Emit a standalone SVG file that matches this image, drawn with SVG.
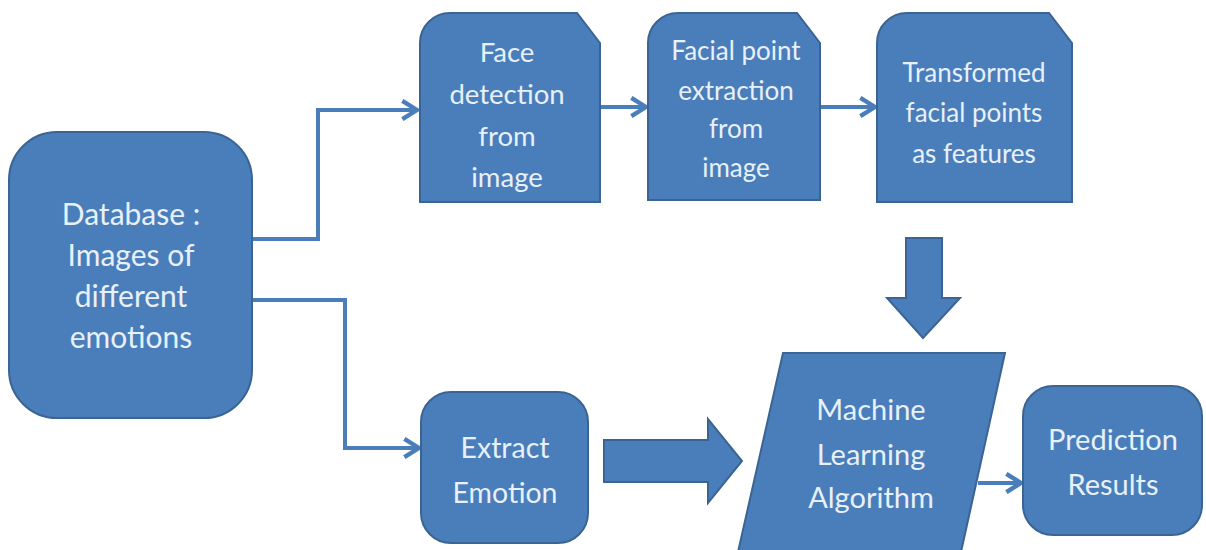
<svg xmlns="http://www.w3.org/2000/svg" width="1206" height="550" viewBox="0 0 1206 550">
<defs>
<style>
.box{fill:#4a7ebb;stroke:#3a6493;stroke-width:2}
.t{font-family:Lato,"Open Sans",sans-serif;fill:#e8f0f9;text-anchor:middle}
.c{fill:none;stroke:#4a7ebb;stroke-width:4}
</style>
<marker id="ar" viewBox="0 0 12 12" refX="10" refY="6" markerWidth="5.5" markerHeight="5.5" markerUnits="strokeWidth" orient="auto">
<path d="M2,1 L10,6 L2,11" fill="none" stroke="#4a7ebb" stroke-width="2.4"/>
</marker>
</defs>
<rect width="1206" height="550" fill="#ffffff"/>
<g id="connectors">
<path class="c" d="M213,239 H318 V110 H417" marker-end="url(#ar)"/>
<path class="c" d="M252,300 H345 V448 H419" marker-end="url(#ar)"/>
<path class="c" d="M600,107 H646" marker-end="url(#ar)"/>
<path class="c" d="M820,107 H875" marker-end="url(#ar)"/>
<path class="c" d="M978,483 H1021" marker-end="url(#ar)"/>
<path class="box" d="M906,238 H942 V298 H960 L923,338 L887,298 H906 Z"/>
<path class="box" d="M604,440 H708 V419 L742,461 L708,503 V482 H604 Z"/>
</g>
<g id="database">
<rect class="box" x="9" y="132" width="243" height="286" rx="48"/>
<text class="t" font-size="30"><tspan x="131" y="225">Database :</tspan><tspan x="131" y="266">Images of</tspan><tspan x="131" y="307">different</tspan><tspan x="131" y="348">emotions</tspan></text>
</g>
<g id="face">
<path class="box" d="M420,202 V43 A30,30 0 0 1 450,13 H577 L600,43 V202 Z"/>
<text class="t" font-size="27.5"><tspan x="507" y="62">Face</tspan><tspan x="507" y="104">detection</tspan><tspan x="507" y="146">from</tspan><tspan x="507" y="187">image</tspan></text>
</g>
<g id="facial">
<path class="box" d="M648,200 V43 A30,30 0 0 1 678,13 H797 L820,43 V200 Z"/>
<text class="t" font-size="26"><tspan x="736" y="60">Facial point</tspan><tspan x="736" y="100">extraction</tspan><tspan x="736" y="138">from</tspan><tspan x="736" y="177">image</tspan></text>
</g>
<g id="transformed">
<path class="box" d="M877,202 V43 A30,30 0 0 1 907,13 H1049 L1072,43 V202 Z"/>
<text class="t" font-size="26"><tspan x="974" y="82">Transformed</tspan><tspan x="974" y="122">facial points</tspan><tspan x="974" y="163">as features</tspan></text>
</g>
<g id="extract">
<rect class="box" x="421" y="392" width="167" height="151" rx="30"/>
<text class="t" font-size="28.5"><tspan x="505" y="458">Extract</tspan><tspan x="505" y="503">Emotion</tspan></text>
</g>
<g id="ml">
<path class="box" d="M783,353 H1005 L961,552 H738 Z"/>
<text class="t" font-size="29"><tspan x="871" y="420">Machine</tspan><tspan x="871" y="465">Learning</tspan><tspan x="871" y="508">Algorithm</tspan></text>
</g>
<g id="prediction">
<rect class="box" x="1023" y="386" width="179" height="149" rx="30"/>
<text class="t" font-size="29"><tspan x="1113" y="450">Prediction</tspan><tspan x="1113" y="495">Results</tspan></text>
</g>
</svg>
